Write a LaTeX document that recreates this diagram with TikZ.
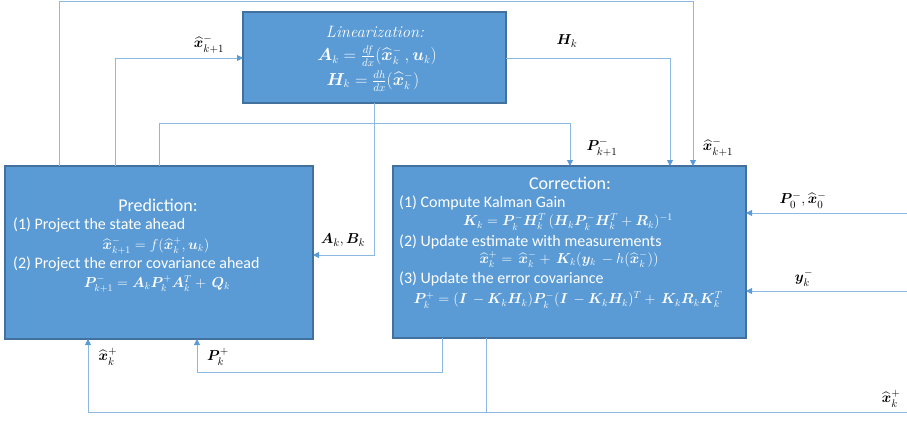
\documentclass[tikz,border=0pt]{standalone}
\usepackage{amsmath,bm}
\usepackage{fontspec}
\newfontfamily\calfont{Carlito}
\usetikzlibrary{arrows.meta}
\definecolor{boxfill}{RGB}{91,155,213}
\definecolor{boxline}{RGB}{65,113,156}
\definecolor{connline}{RGB}{140,185,228}
\definecolor{tipblue}{RGB}{91,155,213}
\tikzset{
  blockbox/.style={draw=boxline, fill=boxfill, line width=1.2pt, inner sep=0pt, outer sep=0pt},
  conn/.style={draw=connline, line width=0.9pt},
  arr/.style={conn, -{Triangle[length=6pt,width=6pt,color=tipblue]}},
  boxtitle/.style={text=white, font=\calfont\fontsize{18}{20}\selectfont, inner sep=0pt},
  boxtext/.style={text=white, font=\calfont\fontsize{16}{18}\selectfont, inner sep=0pt},
  boxmath/.style={text=white, font=\fontsize{14.5}{17}\selectfont, inner sep=0pt},
  linmath/.style={text=white, font=\fontsize{16}{18}\selectfont, inner sep=0pt},
  lbl/.style={text=black, font=\fontsize{15}{18}\selectfont, inner sep=0pt}
}
\newcommand{\xh}{\widehat{\bm{x}}}
\begin{document}
\begin{tikzpicture}[x=1pt,y=-1pt]
\useasboundingbox (0,0) rectangle (907,423);
% boxes
\node[blockbox, minimum width=263pt, minimum height=91pt] (lin) at (374.5,57.5) {};
\node[blockbox, minimum width=308pt, minimum height=173pt] (pred) at (159,252.5) {};
\node[blockbox, minimum width=353pt, minimum height=172pt] (corr) at (569.5,252) {};
% linearization text
\node[linmath, font=\fontsize{16.5}{18}\selectfont\itshape] (lt) at (375,32) {Linearization:};
\node[linmath] (la) at (377,56) {$\bm{A}_k = \frac{df}{dx}(\xh_k^-\,, \bm{u}_k)$};
\node[linmath] (lh) at (373,81) {$\bm{H}_k = \frac{dh}{dx}(\xh_k^-)$};
% prediction text
\node[boxtitle] (pt) at (158,205) {Prediction:};
\node[boxtext, anchor=west] (p1) at (13,225) {(1) Project the state ahead};
\node[boxmath] (pm1) at (156,246) {$\xh_{k+1}^- = f(\xh_k^+, \bm{u}_k)$};
\node[boxtext, anchor=west] (p2) at (13,264) {(2) Project the error covariance ahead};
\node[boxmath] (pm2) at (157,284) {$\bm{P}_{k+1}^- = \bm{A}_k\bm{P}_k^+\bm{A}_k^T + \,\bm{Q}_k$};
% correction text
\node[boxtitle] (ct) at (570,183) {Correction:};
\node[boxtext, anchor=west] (c1t) at (399,203) {(1) Compute Kalman Gain};
\node[boxmath] (cm1) at (568,222) {$\bm{K}_k = \bm{P}_k^-\bm{H}_k^T\,(\bm{H}_k\bm{P}_k^-\bm{H}_k^T + \bm{R}_k)^{-1}$};
\node[boxtext, anchor=west] (c2t) at (399,242) {(2) Update estimate with measurements};
\node[boxmath] (cm2) at (569,260) {$\xh_k^+ = \,\xh_k^- + \,\bm{K}_k(\bm{y}_k \,- h(\xh_k^-))$};
\node[boxtext, anchor=west] (c3t) at (399,279) {(3) Update the error covariance};
\node[boxmath] (cm3) at (568,300) {$\bm{P}_k^+ = (\bm{I}\, - \bm{K}_k\bm{H}_k)\bm{P}_k^-(\bm{I}\, - \bm{K}_k\bm{H}_k)^T + \,\bm{K}_k\bm{R}_k\bm{K}_k^T$};
% coordinates
\coordinate (a1) at (59,1.5);
\coordinate (a2) at (693,1.5);
\coordinate (b1) at (115,58);
\coordinate (d1) at (159,123);
\coordinate (d2) at (570,123);
\coordinate (h1) at (670,58);
\coordinate (e1) at (374,255);
\coordinate (f1) at (907,213);
\coordinate (g1) at (907,291);
\coordinate (p1c) at (442,372);
\coordinate (p2c) at (197,372);
\coordinate (x1) at (486,412);
\coordinate (x2) at (88,412);
\coordinate (x3) at (907,412);
% connectors
\draw[arr] (pred.north -| a1) -- (a1) -- (a2) -- (corr.north -| a2);
\draw[arr] (pred.north -| b1) -- (b1) -- (lin.west |- b1);
\draw[arr] (pred.north -| d1) -- (d1) -- (d2) -- (corr.north -| d2);
\draw[arr] (lin.east |- h1) -- (h1) -- (corr.north -| h1);
\draw[arr] (lin.south -| e1) -- (e1) -- (pred.east |- e1);
\draw[arr] (f1) -- (corr.east |- f1);
\draw[arr] (g1) -- (corr.east |- g1);
\draw[arr] (corr.south -| p1c) -- (p1c) -- (p2c) -- (pred.south -| p2c);
\draw[arr] (corr.south -| x1) -- (x1) -- (x2) -- (pred.south -| x2);
\draw[conn] (x1) -- (x3);
% labels
\node[lbl] (l1) at (209,44) {$\xh_{k+1}^-$};
\node[lbl] (l2) at (567,41) {$\bm{H}_k$};
\node[lbl] (l3) at (602,147) {$\bm{P}_{k+1}^-$};
\node[lbl] (l4) at (718,147) {$\xh_{k+1}^-$};
\node[lbl] (l5) at (343,240) {$\bm{A}_k, \bm{B}_k$};
\node[lbl] (l6) at (803,200) {$\bm{P}_0^-, \xh_0^-$};
\node[lbl] (l7) at (804,278) {$\bm{y}_k^-$};
\node[lbl] (l8) at (108,357) {$\xh_k^+$};
\node[lbl] (l9) at (218,357) {$\bm{P}_k^+$};
\node[lbl] (l10) at (891,399) {$\xh_k^+$};
\end{tikzpicture}
\end{document}
